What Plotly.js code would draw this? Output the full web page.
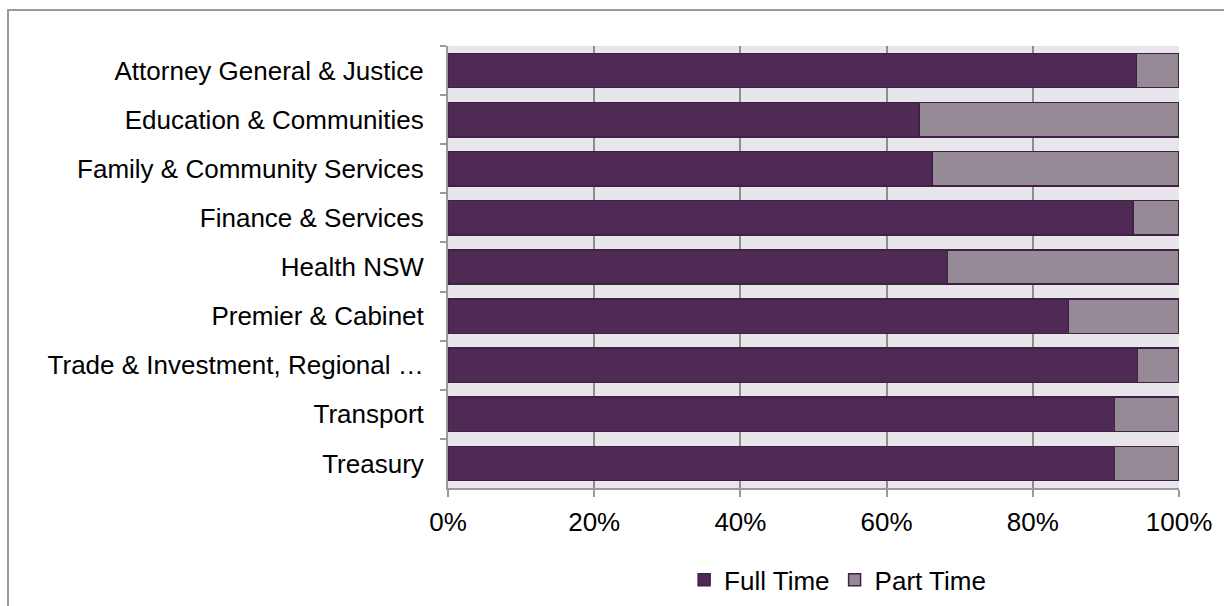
<!DOCTYPE html>
<html>
<head>
<meta charset="utf-8">
<script src="https://cdn.plot.ly/plotly-3.0.1.min.js"></script>
<style>
  html, body { margin: 0; padding: 0; background: #ffffff; }
  #chart { width: 1224px; height: 606px; position: relative; }
  #frame { position: absolute; left: 7px; top: 9px; width: 1300px; height: 700px;
           border-top: 2px solid #9a9a9a; border-left: 2px solid #9a9a9a; pointer-events: none; }
</style>
</head>
<body>
<div style="position:relative;width:1224px;height:606px;overflow:hidden;">
  <div id="chart"></div>
  <div id="frame"></div>
</div>
<script>
const categories = [
  "Attorney General & Justice",
  "Education & Communities",
  "Family & Community Services",
  "Finance & Services",
  "Health NSW",
  "Premier & Cabinet",
  "Trade & Investment, Regional \u2026",
  "Transport",
  "Treasury"
];
const fullTime = [94.2, 64.4, 66.2, 93.7, 68.3, 84.9, 94.3, 91.2, 91.2];
const partTime = [5.8, 35.6, 33.8, 6.3, 31.7, 15.1, 5.7, 8.8, 8.8];
const seriesNames = ["Full Time", "Part Time"];
const xTickVals = [0, 20, 40, 60, 80, 100];
const xTickText = ["0%", "20%", "40%", "60%", "80%", "100%"];

const outline = "#3f2144";
const traces = [
  {
    type: "bar", orientation: "h", name: seriesNames[0],
    y: categories, x: fullTime,
    marker: { color: "#4f2a55", line: { color: outline, width: 1.5 } },
    hoverinfo: "x+y"
  },
  {
    type: "bar", orientation: "h", name: seriesNames[1],
    y: categories, x: partTime,
    marker: { color: "#968a97", line: { color: outline, width: 1.5 } },
    hoverinfo: "x+y"
  }
];

const font = { family: "Liberation Sans, Arial, sans-serif", size: 26, color: "#000000" };

const layout = {
  width: 1224, height: 606,
  margin: { l: 448, r: 45, t: 46, b: 118, pad: 0, autoexpand: false },
  paper_bgcolor: "rgba(0,0,0,0)",
  plot_bgcolor: "#e8e6ea",
  barmode: "stack",
  bargap: 0.3,
  font: font,
  showlegend: true,
  legend: {
    orientation: "h", x: 0.533, xanchor: "center",
    yref: "container", y: 0.043, yanchor: "middle",
    font: font, traceorder: "normal", itemwidth: 30
  },
  xaxis: {
    range: [0, 100], tickvals: xTickVals, ticktext: xTickText,
    showgrid: true, gridcolor: "#8e8e8e", gridwidth: 2,
    showline: true, linecolor: "#9a9a9a", linewidth: 2,
    ticks: "outside", ticklen: 7, tickwidth: 2, tickcolor: "#9a9a9a",
    ticklabelstandoff: 3, automargin: false,
    zeroline: false, fixedrange: true, tickfont: font
  },
  yaxis: {
    type: "category", categoryorder: "array", categoryarray: categories,
    autorange: "reversed",
    showgrid: false, showline: true, linecolor: "#9a9a9a", linewidth: 2,
    ticks: "outside", ticklen: 6, tickwidth: 2, tickcolor: "#9a9a9a",
    tickson: "boundaries", ticklabelstandoff: 17, automargin: false,
    zeroline: false, fixedrange: true, tickfont: font
  }
};

Plotly.newPlot("chart", traces, layout, { displayModeBar: false, staticPlot: true });
</script>
</body>
</html>
